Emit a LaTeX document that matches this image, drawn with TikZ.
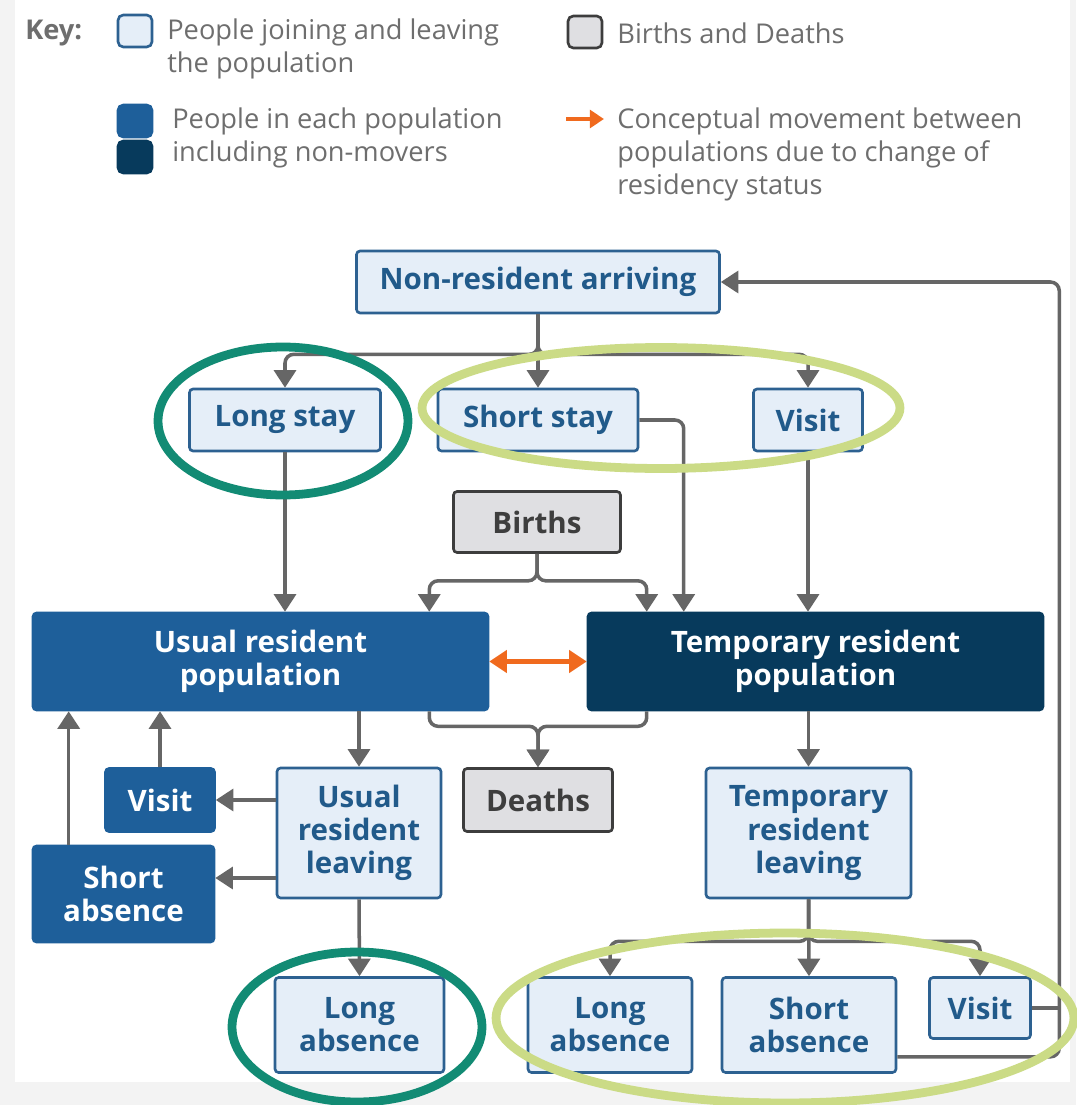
\documentclass[tikz,border=0pt]{standalone}
\usepackage{fontspec}
\setmainfont{Open Sans}
\usetikzlibrary{arrows.meta, calc, positioning}
\definecolor{pale}{HTML}{E5EEF8}
\definecolor{paleedge}{HTML}{2D6191}
\definecolor{paletext}{HTML}{215A8A}
\definecolor{midblue}{HTML}{1E5F9A}
\definecolor{navy}{HTML}{073A5C}
\definecolor{greyfill}{HTML}{DFDFE2}
\definecolor{greyedge}{HTML}{3D3D3D}
\definecolor{greytext}{HTML}{3E3E3E}
\definecolor{arrgrey}{HTML}{666666}
\definecolor{keytext}{HTML}{6E6E6E}
\definecolor{orng}{HTML}{F06A1E}
\definecolor{tealring}{HTML}{128B74}
\definecolor{limering}{HTML}{CBDB86}
\definecolor{backgr}{HTML}{F3F3F3}

\begin{document}
\begin{tikzpicture}[x=0.02cm, y=-0.02cm,
        box/.style={rectangle, rounded corners=2pt, line width=1.5pt, inner sep=0pt,
            align=center, font=\fontsize{16.8}{18.8}\selectfont\bfseries},
        move/.style={box, fill=pale, draw=paleedge, text=paletext},
        popu/.style={box, fill=midblue, draw=midblue, text=white},
        tpopu/.style={box, fill=navy, draw=navy, text=white},
        vital/.style={box, fill=greyfill, draw=greyedge, text=greytext},
        keybox/.style={minimum width=0.68cm, minimum height=0.64cm, rounded corners=3pt},
        keytxt/.style={anchor=west, align=left, inner sep=0pt, text=keytext,
            font=\fontsize{15.5}{18.8}\selectfont},
        link/.style={draw=arrgrey, line width=2pt, rounded corners=5pt},
        flow/.style={link, -{Triangle[length=10pt,width=12.5pt]}},
        conv/.style={draw=orng, line width=2.4pt, {Triangle[length=10pt,width=12.5pt]}-{Triangle[length=10pt,width=12.5pt]}},
        ringa/.style={draw=tealring, line width=5pt},
        ringb/.style={draw=limering, line width=5pt}
    ]
    \useasboundingbox (0,0) rectangle (1076,1105);
    \fill[backgr] (0,0) rectangle (1076,1105);
    \fill[white] (15,0) rectangle (1070,1082);

    % key
    \node[keytxt, font=\fontsize{15.5}{18.8}\selectfont\bfseries] (keyword) at (25,33) {Key:};
    \node[move, keybox] (keymove) at (135,31) {};
    \node[keytxt] (keymovetxt) at (167,49) {People joining and leaving\\the population};
    \node[popu, keybox] (keypopu) at (135,121) {};
    \node[tpopu, keybox] (keytpopu) at (135,157) {};
    \node[keytxt] (keypoputxt) at (172,138) {People in each population\\including non-movers};
    \node[vital, keybox] (keyvital) at (585,32) {};
    \node[keytxt] (keyvitaltxt) at (617,33) {Births and Deaths};
    \coordinate (keyconva) at (566,119);
    \coordinate (keyconvb) at (604,119);
    \draw[draw=orng, line width=2.4pt, -{Triangle[length=8pt,width=10pt]}] (keyconva) -- (keyconvb);
    \node[keytxt] (keyconvtxt) at (617,154) {Conceptual movement between\\populations due to change of\\residency status};

    % arrivals
    \node[move, minimum width=7.26cm, minimum height=1.24cm] (nra) at (538,282) {Non-resident arriving};
    \node[move, minimum width=3.82cm, minimum height=1.24cm] (ls) at (285,420) {Long stay};
    \node[move, minimum width=4.0cm, minimum height=1.24cm] (ss) at (538,420) {Short stay};
    \node[move, minimum width=2.18cm, minimum height=1.24cm] (vs) at (808,420) {Visit};
    \node[vital, minimum width=3.34cm, minimum height=1.22cm] (bir) at (537,522) {Births};

    % populations
    \node[popu, minimum width=9.1cm, minimum height=1.94cm] (usu) at (260.5,661.5) {Usual resident\\population};
    \node[tpopu, minimum width=9.1cm, minimum height=1.94cm] (tmp) at (815.5,661.5) {Temporary resident\\population};

    % leavers
    \node[vital, minimum width=2.98cm, minimum height=1.26cm] (dea) at (538,800) {Deaths};
    \node[move, minimum width=3.28cm, minimum height=2.6cm] (url) at (359,833) {Usual\\resident\\leaving};
    \node[popu, minimum width=2.18cm, minimum height=1.26cm] (vi1) at (160,800) {Visit};
    \node[popu, minimum width=3.62cm, minimum height=1.92cm] (sa1) at (123.5,894) {Short\\absence};
    \node[move, minimum width=3.38cm, minimum height=1.9cm] (la1) at (359.5,1025) {Long\\absence};
    \node[move, minimum width=4.1cm, minimum height=2.6cm] (trl) at (808.5,833) {Temporary\\resident\\leaving};
    \node[move, minimum width=3.28cm, minimum height=1.9cm] (la2) at (610,1025) {Long\\absence};
    \node[move, minimum width=3.48cm, minimum height=1.9cm] (sa2) at (809,1025) {Short\\absence};
    \node[move, minimum width=2.02cm, minimum height=1.22cm] (vi2) at (980,1008) {Visit};

    % connectors
    \draw[flow] (nra.south) -- (ss.north);
    \draw[flow] (nra.south) -- ++(0,40) -| (ls.north);
    \draw[flow] (nra.south) -- ++(0,40) -| (vs.north);
    \draw[flow] (ls.south) -- (ls.south |- usu.north);
    \draw[flow] (ss.east) -| ($(tmp.north west)+(97,0)$);
    \draw[flow] (vs.south) -- (vs.south |- tmp.north);
    \draw[flow] (bir.south) -- ++(0,27) -| ($(usu.north east)+(-60,0)$);
    \draw[flow] (bir.south) -- ++(0,27) -| ($(tmp.north west)+(60,0)$);
    \draw[conv] (usu.east) -- (tmp.west);
    \draw[flow] ($(usu.south east)+(-60,0)$) -- ++(0,15) -| (dea.north);
    \draw[flow] ($(tmp.south west)+(60,0)$) -- ++(0,15) -| (dea.north);
    \draw[flow] (url.north |- usu.south) -- (url.north);
    \draw[flow] (url.west |- vi1.east) -- (vi1.east);
    \coordinate (urlout) at ($(url.west)+(0,45)$);
    \draw[flow] (urlout) -- (urlout -| sa1.east);
    \draw[flow] (vi1.north) -- (vi1.north |- usu.south);
    \coordinate (saup) at ($(sa1.north west)+(37,0)$);
    \draw[flow] (saup) -- (saup |- usu.south);
    \draw[flow] (url.south) -- (la1.north);
    \draw[flow] (trl.north |- tmp.south) -- (trl.north);
    \draw[flow] (trl.south) -- (sa2.north);
    \draw[flow] (trl.south) -- ++(0,42) -| (la2.north);
    \draw[flow] (trl.south) -- ++(0,42) -| (vi2.north);
    \coordinate (back) at ($(tmp.east)+(15,0)$);
    \draw[link] (vi2.east) -- (vi2.east -| back);
    \draw[flow] ($(sa2.south east)+(0,-17)$) -| (back |- nra.east) -- (nra.east);

    % rings
    \draw[ringa] (283,421) ellipse [x radius=2.5cm, y radius=1.48cm];
    \draw[ringb] (661,408) ellipse [x radius=4.78cm, y radius=1.21cm];
    \draw[ringa] (357,1027) ellipse [x radius=2.5cm, y radius=1.5cm];
    \draw[ringb] (785,1018) ellipse [x radius=5.78cm, y radius=1.7cm];
\end{tikzpicture}
\end{document}
